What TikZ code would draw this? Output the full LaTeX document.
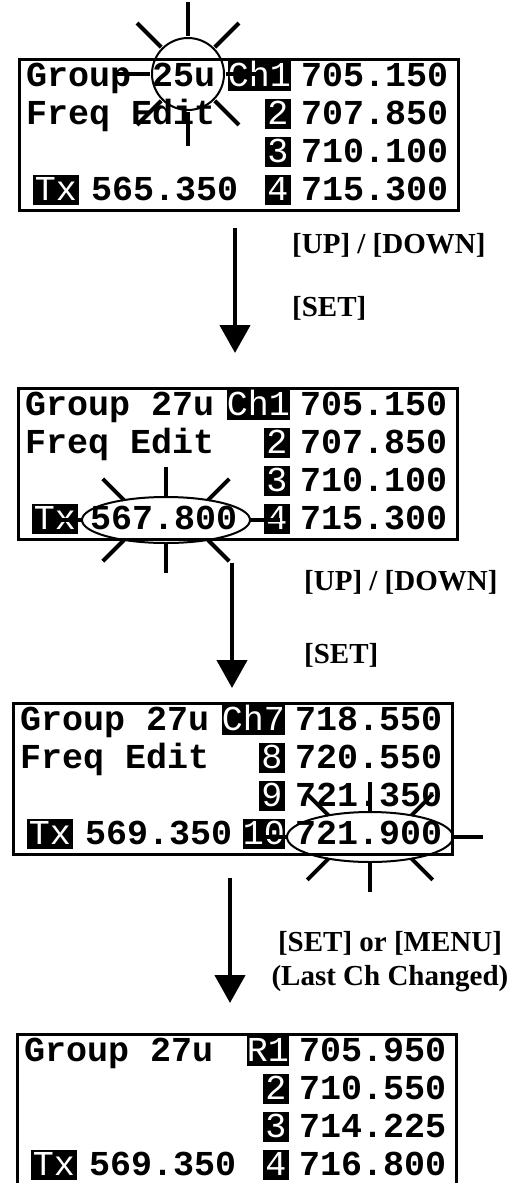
\documentclass[tikz,border=0pt]{standalone}
\usepackage{fontspec}
\setmainfont{Liberation Serif}
\newfontfamily\lcdfont{Liberation Mono}
\usetikzlibrary{arrows.meta}

\tikzset{
  lcd/.style = {font=\lcdfont\bfseries\fontsize{35}{35}\selectfont, inner sep=0pt, anchor=west, text height=25pt, text depth=5pt},
  chbox/.style = {lcd, font=\lcdfont\fontsize{35}{35}\selectfont, fill=black, text=white, anchor=east, minimum width=26pt},
  screen/.style = {draw, line width=2.5pt, anchor=north west, inner sep=0pt, minimum width=439pt, minimum height=151pt},
  ray/.style = {line width=4pt},
  ring/.style = {line width=2pt},
  flow/.style = {line width=4.5pt, -{Triangle[width=30pt,length=28pt]}},
  key/.style = {font=\bfseries\fontsize{29}{34}\selectfont, inner sep=0pt}
}

\begin{document}
\begin{tikzpicture}[x=1pt, y=-1pt]
	\useasboundingbox (0,0) rectangle (517,1183);

	% screen 1: group number blinking
	\begin{scope}[shift={(18,58)}]
		\node[screen] (s1) at (0,0) {};
		\node[lcd] (s1g) at (8,18) {Group 25u};
		\node[lcd] (s1e) at (8,56) {Freq Edit};
		\node[chbox, inner xsep=2pt] (s1t) at (61,132) {Tx};
		\node[lcd] (s1x) at (73,132) {565.350};
		\foreach \c/\f [count=\i from 0] in {Ch1/705.150, 2/707.850, 3/710.100, 4/715.300} {
			\node[chbox] (s1c\i) at (273,{18+38*\i}) {\c};
			\node[lcd] (s1f\i) at (283,{18+38*\i}) {\f};
		}

		\coordinate (b1) at (170,16);
		\draw[ring] (b1) circle[radius=36];
		\foreach \a in {0,45,...,315}
			\draw[ray] (b1) ++(\a:38) -- ++(\a:34);
	\end{scope}

	% screen 2: Tx frequency blinking
	\begin{scope}[shift={(17,387)}]
		\node[screen] (s2) at (0,0) {};
		\node[lcd] (s2g) at (8,18) {Group 27u};
		\node[lcd] (s2e) at (8,56) {Freq Edit};
		\node[chbox, inner xsep=2pt] (s2t) at (61,132) {Tx};
		\node[lcd] (s2x) at (73,132) {567.800};
		\foreach \c/\f [count=\i from 0] in {Ch1/705.150, 2/707.850, 3/710.100, 4/715.300} {
			\node[chbox] (s2c\i) at (273,{18+38*\i}) {\c};
			\node[lcd] (s2f\i) at (283,{18+38*\i}) {\f};
		}

		\coordinate (b2) at (149,133);
		\draw[ring] (b2) ellipse[x radius=84, y radius=23];
		\foreach \t/\d in {0/0,60/45,90/90,120/135,180/180,240/225,270/270,300/315}
			\draw[ray] (b2) ++({84*cos(\t)},{23*sin(\t)}) -- ++(\d:30);
	\end{scope}

	% screen 3: channel frequency blinking
	\begin{scope}[shift={(12,702)}]
		\node[screen] (s3) at (0,0) {};
		\node[lcd] (s3g) at (8,18) {Group 27u};
		\node[lcd] (s3e) at (8,56) {Freq Edit};
		\node[chbox, inner xsep=2pt] (s3t) at (61,132) {Tx};
		\node[lcd] (s3x) at (73,132) {569.350};
		\foreach \c/\f [count=\i from 0] in {Ch7/718.550, 8/720.550, 9/721.350, 10/721.900} {
			\node[chbox] (s3c\i) at (273,{18+38*\i}) {\c};
			\node[lcd] (s3f\i) at (283,{18+38*\i}) {\f};
		}

		\coordinate (b3) at (358,135);
		\draw[ring] (b3) ellipse[x radius=83, y radius=25];
		\foreach \t/\d in {0/0,60/45,90/90,120/135,180/180,240/225,270/270,300/315}
			\draw[ray] (b3) ++({83*cos(\t)},{25*sin(\t)}) -- ++(\d:30);
	\end{scope}

	% screen 4: back to the group
	\begin{scope}[shift={(16,1033)}]
		\node[screen] (s4) at (0,0) {};
		\node[lcd] (s4g) at (8,18) {Group 27u};
		\node[chbox, inner xsep=2pt] (s4t) at (61,132) {Tx};
		\node[lcd] (s4x) at (73,132) {569.350};
		\foreach \c/\f [count=\i from 0] in {R1/705.950, 2/710.550, 3/714.225, 4/716.800} {
			\node[chbox] (s4c\i) at (273,{18+38*\i}) {\c};
			\node[lcd] (s4f\i) at (283,{18+38*\i}) {\f};
		}
	\end{scope}

	% steps
	\draw[flow] ([shift={(217,16)}]s1.south west) -- ([shift={(218,-34)}]s2.north west);
	\draw[flow] ([shift={(215,22)}]s2.south west) -- ([shift={(220,-14)}]s3.north west);
	\draw[flow] ([shift={(218,22)}]s3.south west) -- ([shift={(214,-30)}]s4.north west);

	\node[key, anchor=west] (k1a) at (292,245) {[UP] / [DOWN]};
	\node[key, anchor=west] (k1b) at (292,308) {[SET]};
	\node[key, anchor=west] (k2a) at (304,582) {[UP] / [DOWN]};
	\node[key, anchor=west] (k2b) at (304,655) {[SET]};
	\node[key, align=center] (k3) at (390,962) {[SET] or [MENU]\\(Last Ch Changed)};
\end{tikzpicture}
\end{document}
